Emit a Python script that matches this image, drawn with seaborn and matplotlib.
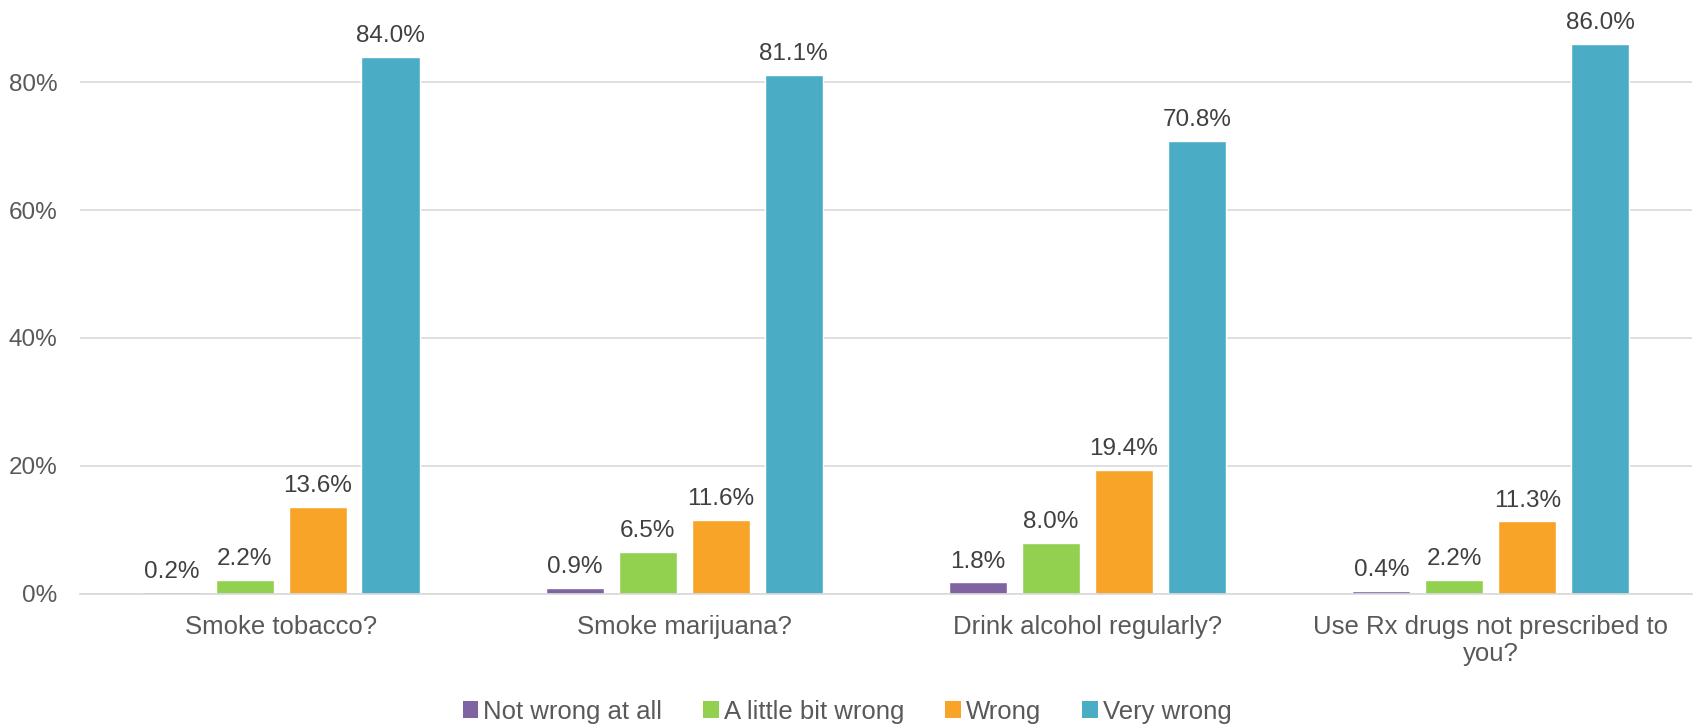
import matplotlib
matplotlib.use("Agg")
import matplotlib.pyplot as plt
import seaborn as sns
import pandas as pd
from matplotlib.ticker import FuncFormatter
from matplotlib.patches import Patch

categories = ["Smoke tobacco?", "Smoke marijuana?", "Drink alcohol regularly?",
              "Use Rx drugs not prescribed to\nyou?"]
series = ["Not wrong at all", "A little bit wrong", "Wrong", "Very wrong"]
not_wrong = [0.2, 0.9, 1.8, 0.4]
little_wrong = [2.2, 6.5, 8.0, 2.2]
wrong = [13.6, 11.6, 19.4, 11.3]
very_wrong = [84.0, 81.1, 70.8, 86.0]
colors = ["#8064A2", "#92D050", "#F8A428", "#4BACC6"]

rows = []
for s, vals in zip(series, [not_wrong, little_wrong, wrong, very_wrong]):
    for c, v in zip(categories, vals):
        rows.append({"question": c, "response": s, "pct": v})
df = pd.DataFrame(rows)

sns.set_theme(style="white")
plt.rcParams["font.family"] = ["Liberation Sans", "DejaVu Sans"]

fig, ax = plt.subplots(figsize=(16.94, 7.25), dpi=100)
fig.subplots_adjust(left=0.047, right=0.999, bottom=0.181, top=0.975)

sns.barplot(data=df, x="question", y="pct", hue="response", order=categories,
            hue_order=series, palette=colors, width=0.724, gap=0.2,
            saturation=1, ax=ax, legend=False)

for cont in ax.containers:
    ax.bar_label(cont, fmt="%.1f%%", padding=7, fontsize=17.5, color="#404040")

ax.set_ylim(0, 90)
ax.set_yticks([0, 20, 40, 60, 80])
ax.yaxis.set_major_formatter(FuncFormatter(lambda v, p: f"{v:.0f}%"))
ax.yaxis.grid(True, color="#D9D9D9", linewidth=1.2)
ax.set_axisbelow(True)
for side in ["left", "right", "top"]:
    ax.spines[side].set_visible(False)
ax.spines["bottom"].set_color("#D9D9D9")
ax.spines["bottom"].set_linewidth(1.2)
ax.tick_params(axis="y", length=0, labelsize=17.5, labelcolor="#595959", pad=16)
ax.tick_params(axis="x", length=0, labelsize=18.5, labelcolor="#595959", pad=15)
ax.set_xlabel("")
ax.set_ylabel("")

handles = [Patch(facecolor=c, edgecolor="none") for c in colors]
leg = fig.legend(handles, series, loc="lower center", ncol=4, frameon=False,
                 bbox_to_anchor=(0.5, -0.03), fontsize=18.5, handlelength=0.6,
                 handleheight=0.6, handletextpad=0.2, columnspacing=1.6)
for t in leg.get_texts():
    t.set_color("#595959")

fig.savefig("out.png", dpi=100)
